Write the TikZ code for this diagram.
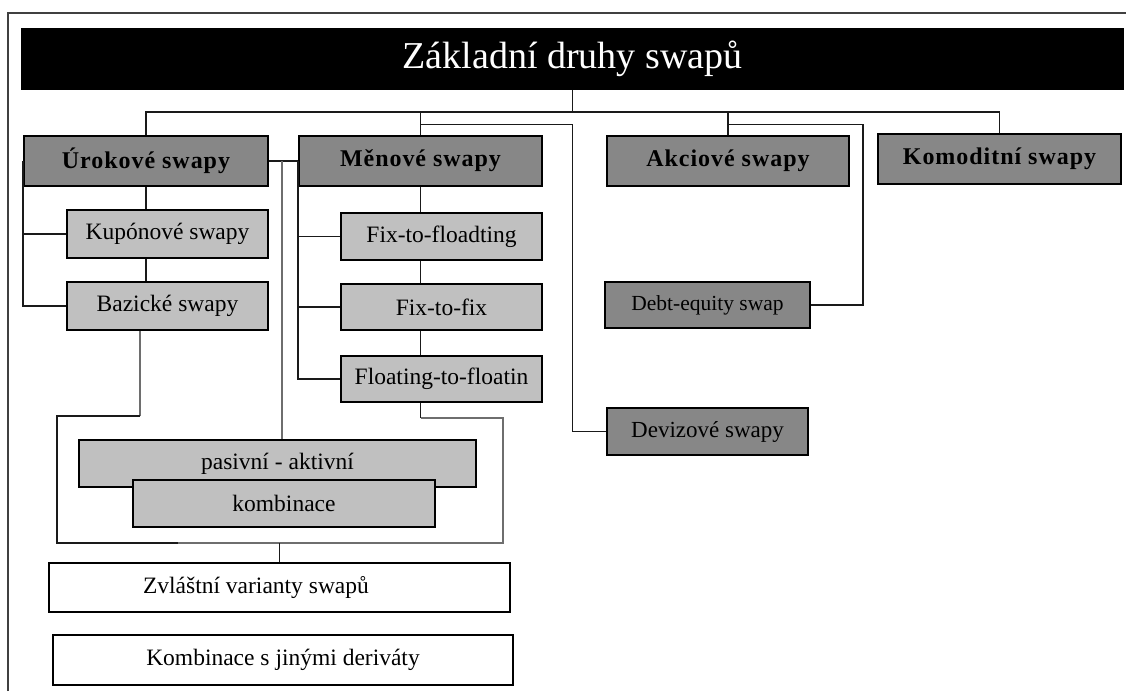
\documentclass[tikz,border=0pt]{standalone}
\usepackage{fontspec}
\setmainfont{Liberation Serif}
\definecolor{darkfill}{HTML}{878787}
\definecolor{lightfill}{HTML}{C0C0C0}
\definecolor{wireline}{HTML}{1A1A1A}
\definecolor{greyline}{HTML}{6E6E6E}
\begin{document}
\begin{tikzpicture}[x=1pt,y=-1pt,
  wire/.style={draw=wireline, line width=1.8pt},
  greywire/.style={draw=greyline, line width=2pt},
  box/.style={draw=black, line width=1.8pt, inner sep=0pt, anchor=center},
  titlebox/.style={box, fill=black, text=white, minimum width=1101pt, minimum height=60pt,
    font=\fontsize{38}{42}\selectfont},
  mainbox/.style={box, fill=darkfill, minimum width=243pt, minimum height=50pt,
    font=\fontsize{24}{26}\selectfont\bfseries\addfontfeatures{LetterSpace=4}},
  darkbox/.style={box, fill=darkfill, minimum width=201pt, minimum height=47pt,
    font=\fontsize{23}{25}\selectfont},
  subbox/.style={box, fill=lightfill, minimum width=201pt, minimum height=47pt,
    font=\fontsize{23.5}{25}\selectfont},
  plainbox/.style={box, fill=white, minimum width=461pt, minimum height=49pt,
    font=\fontsize{23.5}{25}\selectfont},
]
\useasboundingbox (0,0) rectangle (1126,691);
\fill[white] (0,0) rectangle (1126,691);

% open outer frame
\draw[draw=black!75, line width=1.8pt] (8,691) -- (8,13) -- (1126,13);

% routing helpers
\coordinate (bus) at (0,112);
\coordinate (lvb) at (0,124.5);
\coordinate (eqx) at (863,0);
\coordinate (gx)  at (282,0);
\coordinate (bx)  at (140,0);
\coordinate (b1)  at (57,416);
\coordinate (b2)  at (503,543);
\coordinate (b3)  at (0,418);

% heading
\node[titlebox] (title) at (572.5,59) {Základní druhy swapů};

% main swap families
\node[mainbox, minimum width=244pt] (uro) at (146,161)   {Úrokové swapy};
\node[mainbox] (men) at (420.5,161) {Měnové swapy};
\node[mainbox, minimum width=242pt] (akc) at (728,161)   {Akciové swapy};
\node[mainbox] (kom) at (999.5,159) {\raisebox{2pt}{Komoditní swapy}};

% interest rate swaps
\node[subbox, minimum height=48pt] (kup) at (167.5,234) {Kupónové swapy};
\node[subbox, minimum height=48pt] (baz) at (167.5,306) {Bazické swapy};

% currency swaps
\node[subbox] (f2fl)  at (441.5,236.5) {Fix-to-floadting};
\node[subbox, minimum height=46pt] (f2f)   at (441.5,307)   {Fix-to-fix};
\node[subbox, minimum height=46pt] (fl2fl) at (441.5,379)   {Floating-to-floatin};

% equity and FX
\node[darkbox, minimum width=205pt, minimum height=46pt,
      font=\fontsize{21.5}{23}\selectfont] (debt) at (707.5,305) {Debt-equity swap};
\node[darkbox] (dev) at (707.5,431.5) {Devizové swapy};

% combined variants
\node[subbox, minimum width=397pt] (pas)  at (277.5,463.5) {\raisebox{2pt}{pasivní - aktivní}};
\node[subbox, minimum width=302pt] (komb) at (284,503.5)   {kombinace};

% special variants
\node[plainbox] (zvl) at (279.5,587.5) {\hspace*{-47pt}Zvláštní varianty swapů};
\node[plainbox, minimum width=460pt, minimum height=50pt] (kjd) at (283,660) {Kombinace s jinými deriváty};

% top level bus
\draw[wire] (title.south) -- (title.south |- bus);
\draw[wire] (uro.north) |- (bus -| kom.north) -- (kom.north);
\draw[wire] (men.north) -- (men.north |- bus);
\draw[wire] (akc.north) -- (akc.north |- bus);

% second level routes
\draw[wire] (men.north |- lvb) -| (dev.west -| title.south) -- (dev.west);
\draw[wire] (akc.north |- lvb) -| (debt.east -| eqx) -- (debt.east);

% interest rate swaps branch
\draw[wire] (uro.south) -- (uro.south |- kup.north);
\draw[wire] (uro.south |- kup.south) -- (uro.south |- baz.north);
\draw[wire] (uro.west) -- (uro.west |- baz.west) -- (baz.west);
\draw[wire] (uro.west |- kup.west) -- (kup.west);
\draw[wire] (uro.east) -- (men.west);

% currency swaps branch
\draw[wire] (men.south) -- (men.south |- f2fl.north);
\draw[wire] (men.south |- f2fl.south) -- (men.south |- f2f.north);
\draw[wire] (men.south |- f2f.south) -- (men.south |- fl2fl.north);
\draw[wire] (men.west) -- (men.west |- fl2fl.west) -- (fl2fl.west);
\draw[wire] (men.west |- f2fl.west) -- (f2fl.west);
\draw[wire] (men.west |- f2f.west) -- (f2f.west);

% link down to the combined variants
\draw[greywire] (gx |- uro.east) -- (gx |- pas.north);

% enclosing bracket round the combined variants
\draw[greywire] (bx |- baz.south) -- (bx |- b1);
\draw[wire] (bx |- b1) -- (b1) |- (b2 -| 178,0);
\draw[greywire] (178,543) -- (b2) |- (men.south |- b3);
\draw[wire] (men.south |- b3) -- (men.south |- fl2fl.south);
\draw[wire] (zvl.north) -- (zvl.north |- b2);
\end{tikzpicture}
\end{document}
